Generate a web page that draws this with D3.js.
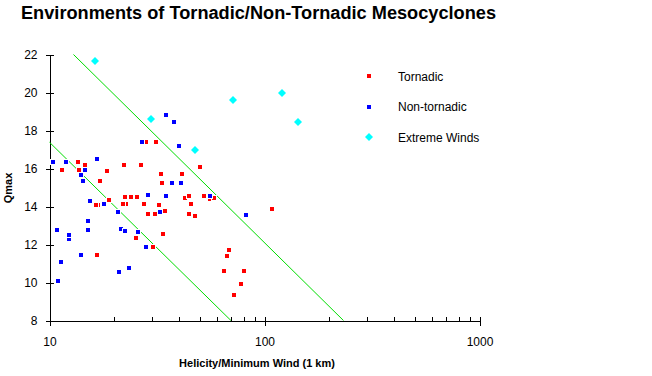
<!DOCTYPE html>
<html>
<head>
<meta charset="utf-8">
<script src="https://cdn.jsdelivr.net/npm/d3@7/dist/d3.min.js"></script>
<style>
  body { margin: 0; background: #fff; }
  svg { display: block; font-family: "Liberation Sans", Arial, sans-serif; }
</style>
</head>
<body>
<div id="chart"></div>
<script>
// values: [helicity / min wind, Qmax]
var tornadic = [
  [16.9,14.08],[22.6,14.14],[13.74,15.91],[55.9,14.38],
  [11.42,15.93],[13.55,16.35],[14.66,16.17],[17.16,15.35],[18.49,15.87],
  [22.2,16.19],[26.7,16.19],[28.2,17.4],[31.3,17.4],[33.1,15.72],[33.4,15.24],
  [41.3,15.72],[50.1,16.08],[16.44,14.08],[16.62,11.45],[18.9,14.35],[21.9,14.14],
  [22.4,14.5],[23.9,14.5],[25.5,14.5],[25.2,12.35],[27.5,14.14],[28.7,13.61],
  [30.3,11.87],[30.9,13.61],[32.3,14.08],[33.7,12.56],[34.3,13.77],[42.6,14.45],
  [44.5,14.56],[45.5,14.14],[44.5,13.61],[47.5,13.5],[52.3,14.56],[58.3,14.45],
  [64.8,10.61],[66.9,11.4],[68.3,11.72],[72.1,9.35],[77.7,9.93],[80.2,10.61],
  [108.3,13.87]
];
var nonTornadic = [
  [10.37,16.33],[11.96,16.33],[14.04,15.66],[14.66,15.93],[14.35,15.35],
  [16.62,16.5],[27.0,17.4],[34.8,18.82],[37.9,18.45],[40.1,17.19],[37.1,15.24],
  [41.0,15.24],[10.83,12.77],[12.31,12.28],[12.31,12.49],[10.94,10.08],[11.30,11.08],
  [15.42,14.28],[15.09,13.24],[15.09,12.77],[14.04,11.45],[17.97,14.14],[20.8,13.72],
  [21.5,12.82],[22.5,12.72],[21.0,10.56],[23.4,10.77],[25.8,12.66],[28.1,11.87],
  [28.7,14.61],[32.6,13.72],[34.8,14.56],[55.9,14.56],[81.9,13.56]
];
var extremeWinds = [
  [16.2,21.68],[29.8,18.58],[47.3,17.0],[71.7,19.58],[121.2,20.0],[142.4,18.47]
];
var lowerLine = [[10,17.38],[69.8,8]];
var upperLine = [[12.93,22],[233,8]];

var xMajor = [10, 100, 1000];
var xMinor = [20,30,40,50,60,70,80,90,200,300,400,500,600,700,800,900];
var yTicks = [8,10,12,14,16,18,20,22];

var legendItems = ["Tornadic", "Non-tornadic", "Extreme Winds"];

var width = 652, height = 376;

var svg = d3.select("#chart").append("svg")
  .attr("width", width)
  .attr("height", height);

var x = d3.scaleLog().domain([10, 1000]).range([49.5, 479.5]);
var y = d3.scaleLinear().domain([8, 22]).range([320.5, 54.5]);

// title
svg.append("text")
  .attr("x", 21)
  .attr("y", 19)
  .attr("textLength", 475)
  .attr("lengthAdjust", "spacingAndGlyphs")
  .style("font-size", "18px")
  .style("font-weight", "bold")
  .text("Environments of Tornadic/Non-Tornadic Mesocyclones");

// y axis
var yAxis = svg.append("g")
  .attr("transform", "translate(49.5,0)")
  .call(d3.axisLeft(y).tickValues(yTicks).tickSize(4).tickSizeOuter(0).tickPadding(8));
yAxis.selectAll(".tick line").attr("x1", 4);
yAxis.selectAll("text").style("font-size", "12px").style("font-family", "Liberation Sans, Arial");
yAxis.select(".domain").attr("stroke", "#000");

// x axis: minor ticks point up, major ticks cross the line
var xMinorAxis = svg.append("g")
  .attr("transform", "translate(0,320.5)")
  .call(d3.axisBottom(x).tickValues(xMinor).tickSize(-4).tickSizeOuter(0).tickFormat(""));
xMinorAxis.select(".domain").remove();

var xAxis = svg.append("g")
  .attr("transform", "translate(0,320.5)")
  .call(d3.axisBottom(x).tickValues(xMajor).tickSize(5).tickSizeOuter(0).tickFormat(d3.format("d")));
xAxis.selectAll(".tick line").attr("y1", -4);
xAxis.selectAll("text")
  .attr("y", 17)
  .style("font-size", "12px")
  .style("font-family", "Liberation Sans, Arial");

svg.selectAll(".domain").attr("shape-rendering", "crispEdges");
svg.selectAll(".tick line").attr("shape-rendering", "crispEdges");

// axis titles
svg.append("text")
  .attr("x", 257)
  .attr("y", 367)
  .attr("text-anchor", "middle")
  .style("font-size", "11px")
  .style("font-weight", "bold")
  .text("Helicity/Minimum Wind (1 km)");

svg.append("text")
  .attr("transform", "translate(12,188) rotate(-90)")
  .attr("text-anchor", "middle")
  .style("font-size", "11px")
  .style("font-weight", "bold")
  .text("Qmax");

// the two dividing lines
var line = d3.line()
  .x(function(d) { return x(d[0]); })
  .y(function(d) { return y(d[1]); });

[lowerLine, upperLine].forEach(function(l) {
  svg.append("path")
    .datum(l)
    .attr("fill", "none")
    .attr("stroke", "#00dd00")
    .attr("stroke-width", 1)
    .attr("d", line);
});

function squares(data, color) {
  svg.append("g").selectAll("rect")
    .data(data)
    .enter().append("rect")
    .attr("x", function(d) { return Math.round(x(d[0])) - 3 + 0.5; })
    .attr("y", function(d) { return Math.round(y(d[1])) - 3 + 0.5; })
    .attr("width", 5)
    .attr("height", 5)
    .attr("fill", color)
    .attr("stroke", "#fff")
    .attr("stroke-width", 1)
    .attr("shape-rendering", "crispEdges");
}

var diamond = "M0,-4L4,0L0,4L-4,0Z";

squares(tornadic, "#ff0000");
squares(nonTornadic, "#0000ff");

svg.append("g").selectAll("path")
  .data(extremeWinds)
  .enter().append("path")
  .attr("transform", function(d) { return "translate(" + Math.round(x(d[0])) + "," + Math.round(y(d[1])) + ")"; })
  .attr("d", diamond)
  .attr("fill", "#00ffff");

// legend
var legend = svg.append("g");
var legendColors = ["#ff0000", "#0000ff", "#00ffff"];
legendItems.forEach(function(name, i) {
  var ly = 76 + i * 30.5;
  if (i < 2) {
    legend.append("rect")
      .attr("x", 367).attr("y", Math.round(ly) - 2)
      .attr("width", 4).attr("height", 4)
      .attr("fill", legendColors[i])
      .attr("shape-rendering", "crispEdges");
  } else {
    legend.append("path")
      .attr("transform", "translate(369," + Math.round(ly) + ")")
      .attr("d", diamond)
      .attr("fill", legendColors[i]);
  }
  legend.append("text")
    .attr("x", 398)
    .attr("y", ly + 4.5)
    .style("font-size", "12px")
    .text(name);
});
</script>
</body>
</html>
